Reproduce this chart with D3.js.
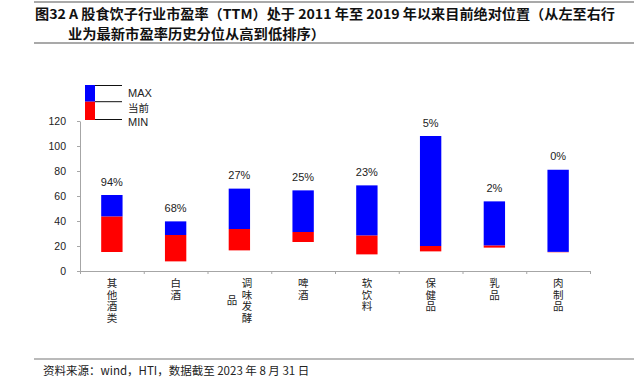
<!DOCTYPE html>
<html>
<head>
<meta charset="utf-8">
<script src="https://cdn.jsdelivr.net/npm/d3@7"></script>
<style>
  body { margin: 0; background: #fff; }
  text { font-family: "Liberation Sans", Arial, "Noto Sans CJK SC", sans-serif; }
  .cjk { font-family: "Noto Sans CJK SC", "Liberation Sans", sans-serif; }
  .axis path, .axis line { stroke: #a6a6a6; }
</style>
</head>
<body>
<div id="chart"></div>
<script>
/* Industry names, top to bottom is left to right on the chart. */
let categories = ["其他酒类", "白酒", "调味发酵品", "啤酒", "软饮料", "保健品", "乳品", "肉制品"];

/* PE (TTM) range since 2011: max, current, min. */
let peMax = [60.8, 39.7, 65.9, 64.5, 68.5, 108, 55.7, 81];
let peCurrent = [43.7, 28.8, 33.6, 31.2, 28.5, 20, 20.5, 15.3];
let peMin = [15.2, 7.7, 16.5, 23.2, 13.3, 15.7, 18.7, 15];

/* Historical percentile of the current PE. */
let percentiles = ["94%", "68%", "27%", "25%", "23%", "5%", "2%", "0%"];

let yTicks = [0, 20, 40, 60, 80, 100, 120];

/* How each category name is broken into vertical columns (right column first). */
let labelColumns = [["其他酒类"], ["白酒"], ["调味发酵", "品"], ["啤酒"], ["软饮料"], ["保健品"], ["乳品"], ["肉制品"]];

let width = 641, height = 389;
let margins = {top: 121, bottom: 118, left: 80, right: 51};

let svg = d3.select("#chart").append("svg")
    .attr("width", width)
    .attr("height", height);

/* Scales */
let x = d3.scaleBand()
    .domain(categories)
    .range([margins.left, width - margins.right])
    .paddingInner(0.665)
    .paddingOuter(0.3325);
let xEdges = d3.scaleLinear()
    .domain([0, categories.length])
    .range([margins.left, width - margins.right]);
let y = d3.scaleLinear()
    .domain([0, 120])
    .range([height - margins.bottom, margins.top]);

/* Title block with rules above and below. */
svg.append("line")
    .attr("x1", 34).attr("x2", 634).attr("y1", 2).attr("y2", 2)
    .attr("stroke", "#555").attr("stroke-width", 1.2);
svg.append("line")
    .attr("x1", 34).attr("x2", 634).attr("y1", 43).attr("y2", 43)
    .attr("stroke", "#555").attr("stroke-width", 1.2);
svg.append("text")
    .attr("class", "cjk")
    .attr("x", 35).attr("y", 18.5)
    .attr("font-size", 13.5).attr("font-weight", "bold").attr("fill", "#111")
    .attr("textLength", 580).attr("lengthAdjust", "spacingAndGlyphs")
    .text("图32 A 股食饮子行业市盈率（TTM）处于 2011 年至 2019 年以来目前绝对位置（从左至右行");
svg.append("text")
    .attr("class", "cjk")
    .attr("x", 68).attr("y", 38.5)
    .attr("font-size", 13.5).attr("font-weight", "bold").attr("fill", "#111")
    .attr("textLength", 257).attr("lengthAdjust", "spacingAndGlyphs")
    .text("业为最新市盈率历史分位从高到低排序）");

/* Axes */
let yaxis = d3.axisLeft(y).tickValues(yTicks).tickSize(3).tickSizeOuter(0);
svg.append("g")
    .attr("class", "axis")
    .attr("transform", "translate(" + margins.left + ", 0)")
    .call(yaxis)
    .call(g => g.selectAll("text")
        .attr("font-size", 10.5)
        .attr("fill", "#222")
        .attr("font-family", "Liberation Sans, Arial, sans-serif")
        .attr("dx", -8));

let xaxis = d3.axisBottom(xEdges).tickValues(d3.range(0, categories.length + 1))
    .tickSize(3).tickSizeOuter(0).tickFormat("");
svg.append("g")
    .attr("class", "axis")
    .attr("transform", "translate(0, " + (height - margins.bottom) + ")")
    .call(xaxis);

/* Vertical category labels, Excel style: columns run right to left,
   shorter columns are centred vertically on the first one. */
let fontSize = 10.5, rowStep = 11.5, colGap = 15;
categories.forEach(function(c, i) {
    let cols = labelColumns[i];
    let cx = x(c) + x.bandwidth() / 2;
    let firstRows = cols[0].length;
    cols.forEach(function(col, j) {
        let colX = cx + (cols.length - 1) * colGap / 2 - j * colGap;
        let offset = (firstRows - col.length) * rowStep / 2;
        svg.append("text")
            .attr("class", "cjk")
            .attr("x", colX)
            .attr("y", 278 + offset)
            .style("writing-mode", "vertical-rl")
            .style("letter-spacing", (rowStep - fontSize) + "px")
            .attr("font-size", fontSize)
            .attr("fill", "#222")
            .text(col);
    });
});

/* Bars: red from min to current, blue from current to max. */
svg.selectAll("rect.low")
    .data(categories)
    .enter()
    .append("rect")
        .attr("class", "low")
        .attr("x", d => x(d))
        .attr("width", x.bandwidth())
        .attr("y", (d, i) => y(peCurrent[i]))
        .attr("height", (d, i) => y(peMin[i]) - y(peCurrent[i]))
        .attr("fill", "#ff0000");
svg.selectAll("rect.high")
    .data(categories)
    .enter()
    .append("rect")
        .attr("class", "high")
        .attr("x", d => x(d))
        .attr("width", x.bandwidth())
        .attr("y", (d, i) => y(peMax[i]))
        .attr("height", (d, i) => y(peCurrent[i]) - y(peMax[i]))
        .attr("fill", "#0000ff");

/* Percentile labels above each bar. */
svg.selectAll("text.pct")
    .data(categories)
    .enter()
    .append("text")
        .attr("class", "pct")
        .attr("x", d => x(d) + x.bandwidth() / 2)
        .attr("y", (d, i) => y(peMax[i]) - 9.5)
        .attr("text-anchor", "middle")
        .attr("font-size", 11)
        .attr("fill", "#222")
        .text((d, i) => percentiles[i]);

/* Legend: a small stacked box with leader lines to MAX / 当前 / MIN. */
let legend = svg.append("g");
legend.append("rect")
    .attr("x", 85).attr("y", 85).attr("width", 10).attr("height", 16.7)
    .attr("fill", "#0000ff");
legend.append("rect")
    .attr("x", 85).attr("y", 101.7).attr("width", 10).attr("height", 18.3)
    .attr("fill", "#ff0000");
[85.5, 101.7, 119.5].forEach(function(ly) {
    legend.append("line")
        .attr("x1", 95).attr("x2", 122).attr("y1", ly).attr("y2", ly)
        .attr("stroke", "#111").attr("stroke-width", 1);
});
legend.append("text")
    .attr("x", 128).attr("y", 97)
    .attr("font-size", 11).attr("fill", "#222")
    .text("MAX");
legend.append("text")
    .attr("class", "cjk")
    .attr("x", 128).attr("y", 111.5)
    .attr("font-size", 10.5).attr("fill", "#222")
    .text("当前");
legend.append("text")
    .attr("x", 128).attr("y", 125.5)
    .attr("font-size", 11).attr("fill", "#222")
    .text("MIN");

/* Source note */
svg.append("line")
    .attr("x1", 34).attr("x2", 634).attr("y1", 359).attr("y2", 359)
    .attr("stroke", "#777").attr("stroke-width", 1.2);
svg.append("text")
    .attr("class", "cjk")
    .attr("x", 43).attr("y", 375)
    .attr("font-size", 11.5).attr("fill", "#222")
    .text("资料来源：wind，HTI，数据截至 2023 年 8 月 31 日");
</script>
</body>
</html>
